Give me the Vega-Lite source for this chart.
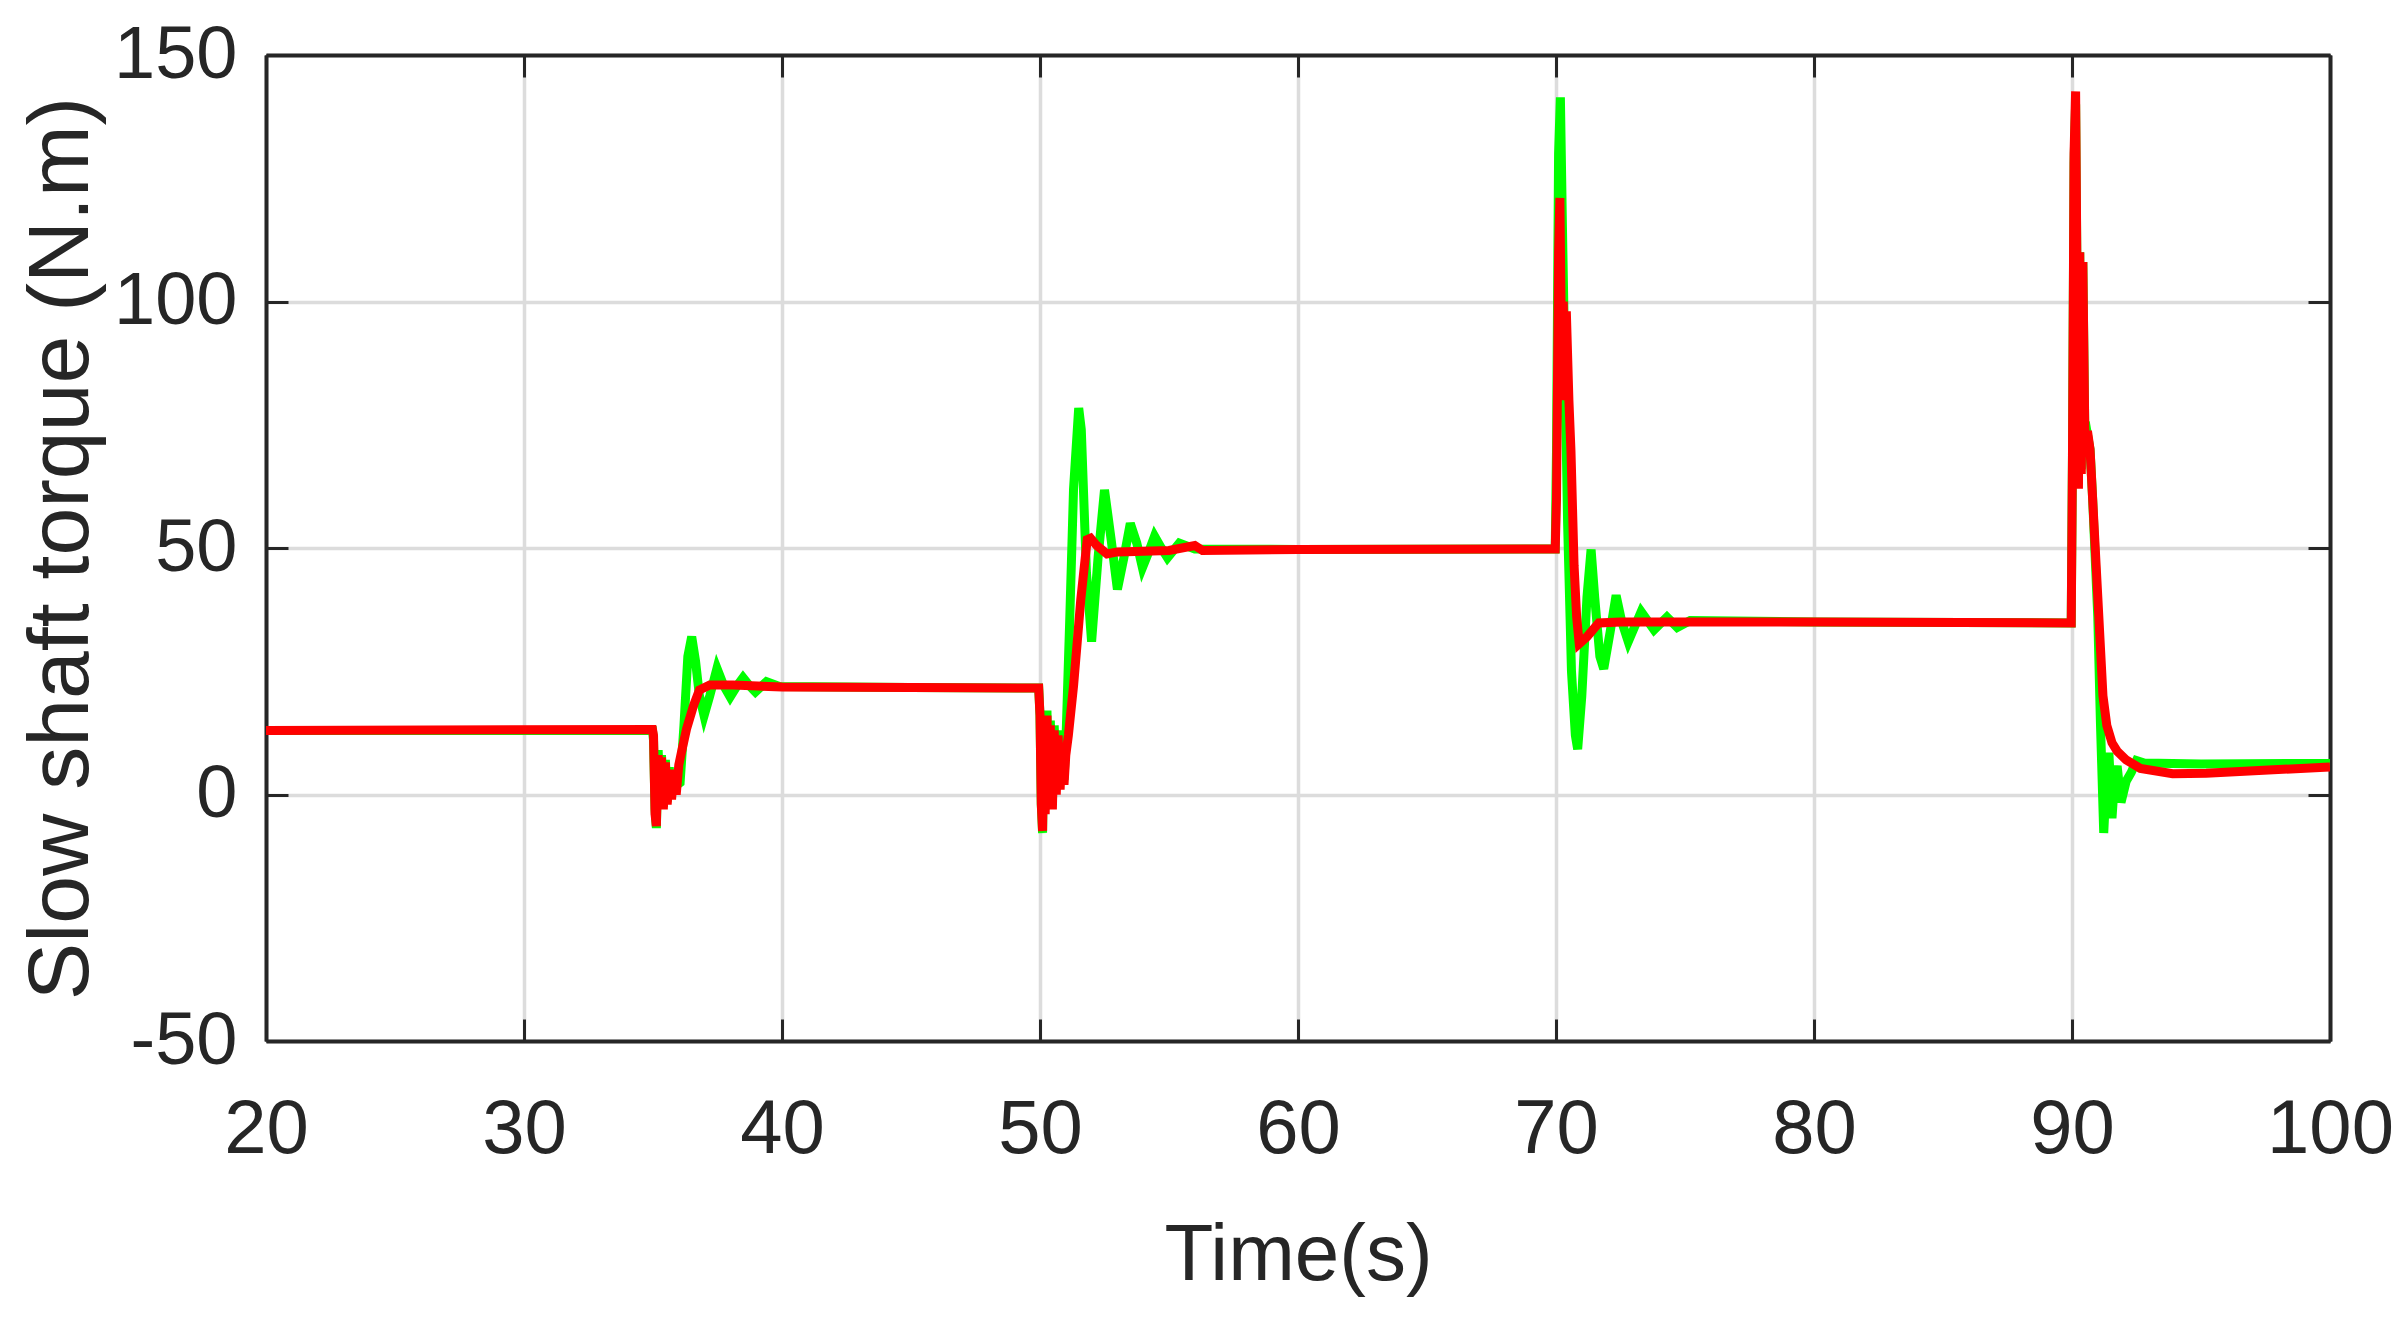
{
  "$schema": "https://vega.github.io/schema/vega-lite/v6.json",
  "width": 2064,
  "height": 986,
  "autosize": {"type": "none"},
  "padding": {"left": 266, "top": 55, "right": 67, "bottom": 282},
  "background": "white",
  "config": {
    "view": {"stroke": null},
    "axis": {
      "domainColor": "#262626",
      "domainWidth": 4,
      "tickColor": "#262626",
      "tickWidth": 3,
      "tickSize": -22,
      "gridColor": "#dcdcdc",
      "gridWidth": 3.5,
      "labelColor": "#262626",
      "labelFont": "Liberation Sans",
      "labelFontSize": 74,
      "titleColor": "#262626",
      "titleFont": "Liberation Sans",
      "titleFontSize": 86,
      "titleFontWeight": "normal"
    }
  },
  "datasets": {
    "green": [
      {"t": 20, "v": 13}, {"t": 34.98, "v": 13}, {"t": 35.02, "v": 11}, {"t": 35.08, "v": -3}, {"t": 35.13, "v": -6.8},
      {"t": 35.2, "v": 9}, {"t": 35.27, "v": -1.5}, {"t": 35.33, "v": 8}, {"t": 35.4, "v": -2.5}, {"t": 35.48, "v": 7},
      {"t": 35.55, "v": -1.5}, {"t": 35.63, "v": 5.5}, {"t": 35.72, "v": 0}, {"t": 35.85, "v": 4}, {"t": 35.95, "v": 2},
      {"t": 36.05, "v": 2.4}, {"t": 36.2, "v": 14}, {"t": 36.35, "v": 28}, {"t": 36.5, "v": 32}, {"t": 36.65, "v": 27},
      {"t": 36.8, "v": 20}, {"t": 36.98, "v": 16}, {"t": 37.2, "v": 20}, {"t": 37.48, "v": 25.6}, {"t": 37.75, "v": 22},
      {"t": 37.99, "v": 19.8}, {"t": 38.25, "v": 22}, {"t": 38.49, "v": 23.7}, {"t": 38.75, "v": 22}, {"t": 38.97, "v": 20.8},
      {"t": 39.4, "v": 22.9}, {"t": 39.9, "v": 21.9}, {"t": 45, "v": 21.7}, {"t": 49.95, "v": 21.6}, {"t": 50.0, "v": 16},
      {"t": 50.05, "v": -2}, {"t": 50.1, "v": -7.8}, {"t": 50.15, "v": 13}, {"t": 50.2, "v": -3}, {"t": 50.27, "v": 17},
      {"t": 50.33, "v": 0}, {"t": 50.4, "v": 15}, {"t": 50.48, "v": -2}, {"t": 50.55, "v": 14}, {"t": 50.63, "v": 1},
      {"t": 50.7, "v": 13}, {"t": 50.78, "v": 2}, {"t": 50.85, "v": 11}, {"t": 50.93, "v": 3}, {"t": 51.0, "v": 10},
      {"t": 51.15, "v": 35}, {"t": 51.3, "v": 62}, {"t": 51.5, "v": 78.4}, {"t": 51.6, "v": 74}, {"t": 51.8, "v": 45},
      {"t": 52.0, "v": 31}, {"t": 52.25, "v": 48}, {"t": 52.5, "v": 61.8}, {"t": 52.75, "v": 52}, {"t": 53.0, "v": 41.6},
      {"t": 53.25, "v": 48}, {"t": 53.5, "v": 55}, {"t": 53.75, "v": 51}, {"t": 53.97, "v": 46}, {"t": 54.2, "v": 49},
      {"t": 54.44, "v": 52.4}, {"t": 54.7, "v": 50}, {"t": 54.94, "v": 48}, {"t": 55.4, "v": 51}, {"t": 56, "v": 49.8},
      {"t": 60, "v": 49.7}, {"t": 69.97, "v": 49.8}, {"t": 70.02, "v": 70}, {"t": 70.1, "v": 130}, {"t": 70.17, "v": 141.4},
      {"t": 70.25, "v": 115}, {"t": 70.35, "v": 85}, {"t": 70.45, "v": 55}, {"t": 70.6, "v": 25}, {"t": 70.75, "v": 12},
      {"t": 70.84, "v": 9.2}, {"t": 71.0, "v": 20}, {"t": 71.2, "v": 40}, {"t": 71.36, "v": 49.7}, {"t": 71.5, "v": 40},
      {"t": 71.7, "v": 28}, {"t": 71.85, "v": 25.5}, {"t": 72.1, "v": 33}, {"t": 72.33, "v": 40.4}, {"t": 72.55, "v": 35},
      {"t": 72.8, "v": 31}, {"t": 73.3, "v": 37.1}, {"t": 73.8, "v": 33.4}, {"t": 74.3, "v": 36}, {"t": 74.7, "v": 33.9},
      {"t": 75.2, "v": 35.3}, {"t": 80, "v": 35}, {"t": 89.97, "v": 34.8}, {"t": 90.02, "v": 70}, {"t": 90.08, "v": 128},
      {"t": 90.14, "v": 140}, {"t": 90.2, "v": 100}, {"t": 90.25, "v": 63}, {"t": 90.3, "v": 110}, {"t": 90.36, "v": 66},
      {"t": 90.42, "v": 108}, {"t": 90.5, "v": 72}, {"t": 90.6, "v": 73}, {"t": 90.7, "v": 70}, {"t": 90.8, "v": 60},
      {"t": 90.9, "v": 48}, {"t": 91.0, "v": 36}, {"t": 91.1, "v": 15}, {"t": 91.23, "v": -7.8}, {"t": 91.33, "v": 3},
      {"t": 91.43, "v": 8.5}, {"t": 91.55, "v": -4.8}, {"t": 91.65, "v": 3}, {"t": 91.75, "v": 5.8}, {"t": 91.9, "v": -1.6},
      {"t": 92.1, "v": 2.7}, {"t": 92.3, "v": 4.5}, {"t": 92.5, "v": 6.9}, {"t": 92.8, "v": 6.4}, {"t": 95, "v": 6.2},
      {"t": 100, "v": 6.3}
    ],
    "red": [
      {"t": 20, "v": 13}, {"t": 34.98, "v": 13.2}, {"t": 35.02, "v": 12}, {"t": 35.08, "v": -4}, {"t": 35.13, "v": -6.4},
      {"t": 35.2, "v": 8}, {"t": 35.27, "v": -2}, {"t": 35.33, "v": 7.5}, {"t": 35.4, "v": -3}, {"t": 35.48, "v": 6.5},
      {"t": 35.55, "v": -2}, {"t": 35.63, "v": 5}, {"t": 35.72, "v": -1}, {"t": 35.8, "v": 4.5}, {"t": 35.9, "v": 0},
      {"t": 36.0, "v": 6}, {"t": 36.1, "v": 8.5}, {"t": 36.3, "v": 13.3}, {"t": 36.57, "v": 18}, {"t": 36.8, "v": 21.2},
      {"t": 37.2, "v": 22.2}, {"t": 38.1, "v": 22.2}, {"t": 40, "v": 21.8}, {"t": 45, "v": 21.7}, {"t": 49.95, "v": 21.6},
      {"t": 50.0, "v": 16}, {"t": 50.05, "v": -2}, {"t": 50.1, "v": -7.4}, {"t": 50.15, "v": 12}, {"t": 50.2, "v": -4},
      {"t": 50.27, "v": 16}, {"t": 50.33, "v": -1}, {"t": 50.4, "v": 14}, {"t": 50.48, "v": -3}, {"t": 50.55, "v": 13},
      {"t": 50.63, "v": 0}, {"t": 50.7, "v": 12}, {"t": 50.78, "v": 1}, {"t": 50.85, "v": 10}, {"t": 50.93, "v": 2},
      {"t": 51.0, "v": 8}, {"t": 51.1, "v": 12}, {"t": 51.3, "v": 22}, {"t": 51.58, "v": 39.5}, {"t": 51.83, "v": 51.7},
      {"t": 51.96, "v": 52}, {"t": 52.2, "v": 50.5}, {"t": 52.6, "v": 48.8}, {"t": 53, "v": 49.2}, {"t": 55, "v": 49.5},
      {"t": 56, "v": 50.5}, {"t": 56.3, "v": 49.5}, {"t": 60, "v": 49.7}, {"t": 69.97, "v": 49.8}, {"t": 70.02, "v": 60},
      {"t": 70.1, "v": 110}, {"t": 70.15, "v": 121}, {"t": 70.22, "v": 88}, {"t": 70.28, "v": 100}, {"t": 70.35, "v": 80},
      {"t": 70.4, "v": 98}, {"t": 70.5, "v": 80}, {"t": 70.58, "v": 69.7}, {"t": 70.7, "v": 46.5}, {"t": 70.8, "v": 36},
      {"t": 70.9, "v": 30.6}, {"t": 71.2, "v": 32}, {"t": 71.66, "v": 34.8}, {"t": 72.5, "v": 35}, {"t": 80, "v": 35},
      {"t": 89.97, "v": 34.8}, {"t": 90.02, "v": 70}, {"t": 90.08, "v": 130}, {"t": 90.14, "v": 142.6}, {"t": 90.2, "v": 100},
      {"t": 90.25, "v": 62}, {"t": 90.3, "v": 110}, {"t": 90.36, "v": 65}, {"t": 90.42, "v": 108}, {"t": 90.5, "v": 72},
      {"t": 90.6, "v": 73.7}, {"t": 90.7, "v": 70}, {"t": 90.8, "v": 60}, {"t": 90.9, "v": 50}, {"t": 91.0, "v": 40},
      {"t": 91.1, "v": 30}, {"t": 91.2, "v": 20}, {"t": 91.35, "v": 14}, {"t": 91.55, "v": 10.5}, {"t": 91.75, "v": 8.8},
      {"t": 92.1, "v": 7}, {"t": 92.65, "v": 5.3}, {"t": 93.9, "v": 4.2}, {"t": 95.2, "v": 4.3}, {"t": 97.8, "v": 5},
      {"t": 100, "v": 5.6}
    ]
  },
  "layer": [
    {
      "data": {"name": "green"},
      "mark": {"type": "line", "color": "#00ff00", "strokeWidth": 9, "clip": true},
      "encoding": {
        "x": {
          "field": "t", "type": "quantitative",
          "scale": {"domain": [20, 100], "nice": false, "zero": false},
          "axis": {"orient": "bottom", "title": "Time(s)", "values": [20, 30, 40, 50, 60, 70, 80, 90, 100], "labelPadding": 73, "titlePadding": 49, "labelFlush": false, "labelFontSize": 76, "titleFontSize": 80}
        },
        "y": {
          "field": "v", "type": "quantitative",
          "scale": {"domain": [-50, 150], "nice": false, "zero": false},
          "axis": {"orient": "left", "title": "Slow shaft torque (N.m)", "values": [-50, 0, 50, 100, 150], "labelExpr": "datum.value + ''", "labelPadding": 51, "titlePadding": 8, "labelFlush": false}
        }
      }
    },
    {
      "data": {"name": "red"},
      "mark": {"type": "line", "color": "#ff0000", "strokeWidth": 9, "clip": true},
      "encoding": {
        "x": {
          "field": "t", "type": "quantitative",
          "axis": {"orient": "top", "title": null, "labels": false, "grid": false, "values": [20, 30, 40, 50, 60, 70, 80, 90, 100]}
        },
        "y": {
          "field": "v", "type": "quantitative",
          "axis": {"orient": "right", "title": null, "labels": false, "grid": false, "values": [-50, 0, 50, 100, 150]}
        }
      }
    }
  ],
  "resolve": {"axis": {"x": "independent", "y": "independent"}}
}
